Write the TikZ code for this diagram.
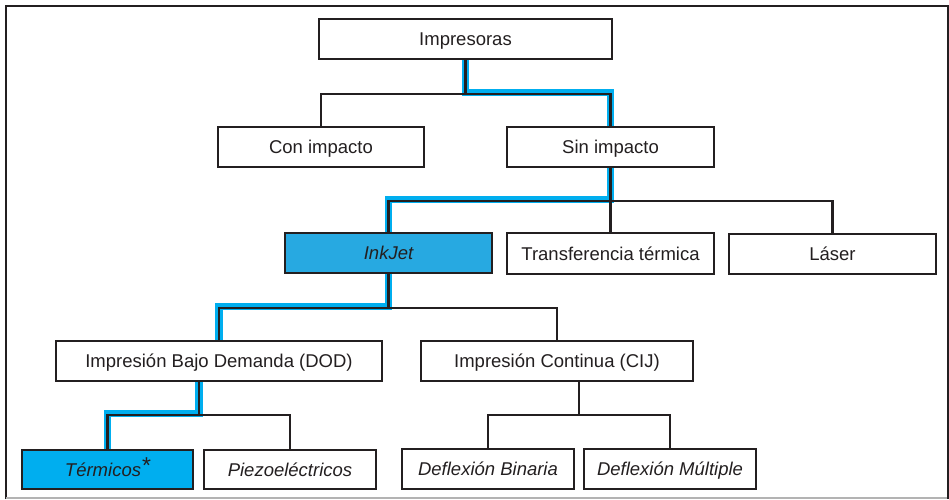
\documentclass[tikz,border=0pt]{standalone}
\usepackage{fontspec}
\setmainfont{Liberation Sans}
\usetikzlibrary{backgrounds,calc}
\definecolor{txt}{HTML}{231F20}
\definecolor{inkfill}{HTML}{27A9E1}
\definecolor{terfill}{HTML}{00AEEF}
\definecolor{hl}{HTML}{00AEEF}
\definecolor{framegray}{HTML}{B3B3B3}
\tikzset{
  box/.style={draw=txt, line width=2.6pt, fill=white, text=txt, inner sep=0pt,
    text height=13.2pt, text depth=0pt,
    font=\fontsize{18.5}{22}\selectfont},
  conn/.style={draw=txt, line width=2.4pt},
  hlpath/.style={draw=hl, line width=7.5pt, yshift=1.5pt},
}
\newcommand{\mkbox}[6][]{%
  \node[box,#1, minimum width={#4-#2}, minimum height={#5-#3}]
    at ({(#2+#4)/2},{(#3+#5)/2}) (#6)}
\begin{document}
\begin{tikzpicture}[x=1pt,y=-1pt]
\useasboundingbox (0,0) rectangle (949,499);
% frame
\draw[txt, line width=2.3pt] (6,499) -- (6,6) -- (947.8,6) -- (947.8,499);
\draw[framegray, line width=1.5pt] (6,498) -- (947,498);

% boxes
\mkbox{319}{19}{612}{59}{imp} {Impresoras};
\mkbox{218}{127}{424}{167}{con} {Con impacto};
\mkbox{507}{127}{714}{167}{sin} {Sin impacto};
\mkbox[fill=inkfill]{285}{233}{492}{273}{ink} {\itshape InkJet};
\mkbox{507}{233}{714}{274}{tra} {Transferencia térmica};
\mkbox{729}{234}{936}{274}{las} {Láser};
\mkbox{56}{341}{382}{381}{dod} {Impresión Bajo Demanda (DOD)};
\mkbox{421}{341}{693}{381}{cij} {Impresión Continua (CIJ)};
\mkbox[fill=terfill]{22}{450}{193}{489}{ter} {\itshape Térmicos\raisebox{2.5pt}{\fontsize{23}{23}\selectfont *}};
\mkbox{204}{450}{376}{489}{pie} {\itshape Piezoeléctricos};
\mkbox{402}{449}{574}{489}{bin} {\itshape Deflexión Binaria};
\mkbox{584}{449}{756}{489}{mul} {\itshape Deflexión Múltiple};

\coordinate (m1) at ($(ter.north)!0.5!(pie.north)$);
\coordinate (m2) at ($(bin.north)!0.5!(mul.north)$);

\begin{scope}[on background layer]
  % highlighted path
  \draw[hlpath] (imp.south) -- (imp.south |- 0,94) -- (sin.north |- 0,94) -- (sin.north);
  \draw[hlpath] (sin.south) -- (sin.south |- 0,201) -- (ink.north |- 0,201) -- (ink.north);
  \draw[hlpath] (ink.south) -- (ink.south |- 0,308) -- (dod.north |- 0,308) -- (dod.north);
  \draw[hlpath] (dod.south -| m1) -- (m1 |- 0,415) -- (ter.north |- 0,415) -- (ter.north);
  % connectors
  \draw[conn] (imp.south) -- (imp.south |- 0,94);
  \draw[conn] (con.north) -- (con.north |- 0,94) -- (sin.north |- 0,94) -- (sin.north);
  \draw[conn] (sin.south) -- (sin.south |- 0,201);
  \draw[conn] (ink.north) -- (ink.north |- 0,201) -- (las.north |- 0,201) -- (las.north);
  \draw[conn] (tra.north) -- (tra.north |- 0,201);
  \draw[conn] (ink.south) -- (ink.south |- 0,308);
  \draw[conn] (dod.north) -- (dod.north |- 0,308) -- (cij.north |- 0,308) -- (cij.north);
  \draw[conn] (dod.south -| m1) -- (m1 |- 0,415);
  \draw[conn] (ter.north) -- (ter.north |- 0,415) -- (pie.north |- 0,415) -- (pie.north);
  \draw[conn] (cij.south -| m2) -- (m2 |- 0,415);
  \draw[conn] (bin.north) -- (bin.north |- 0,415) -- (mul.north |- 0,415) -- (mul.north);
\end{scope}
\end{tikzpicture}
\end{document}
